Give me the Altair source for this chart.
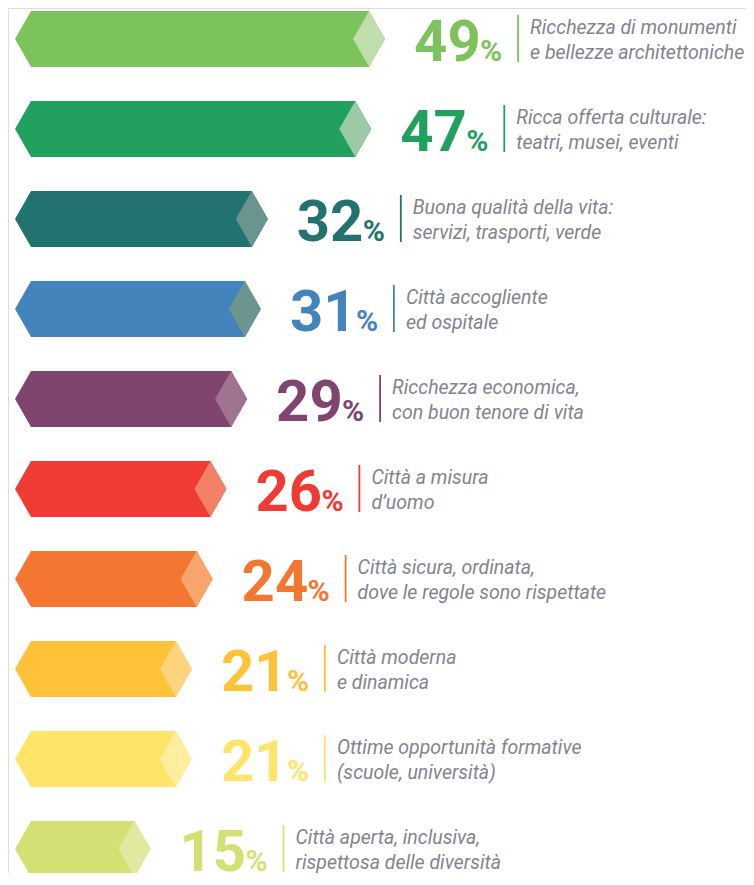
import altair as alt
import pandas as pd

# ---- data ----
CATEGORIES = ["monumenti", "cultura", "qualita", "accogliente", "ricchezza",
              "misura", "sicura", "moderna", "formative", "aperta"]
VALUES = [49, 47, 32, 31, 29, 26, 24, 21, 21, 15]
DESC_LINE1 = ["Ricchezza di monumenti", "Ricca offerta culturale:", "Buona qualità della vita:",
              "Città accogliente", "Ricchezza economica,", "Città a misura",
              "Città sicura, ordinata,", "Città moderna", "Ottime opportunità formative",
              "Città aperta, inclusiva,"]
DESC_LINE2 = ["e bellezze architettoniche", "teatri, musei, eventi", "servizi, trasporti, verde",
              "ed ospitale", "con buon tenore di vita", "d’uomo",
              "dove le regole sono rispettate", "e dinamica", "(scuole, università)",
              "rispettosa delle diversità"]
COLORS = ["#7bc35a", "#22a060", "#227370", "#4484bd", "#80456f",
          "#ef3b33", "#f47631", "#ffc239", "#ffe46a", "#d4e074"]
LIGHT_COLORS = ["#bfdeab", "#9cc9a6", "#6a948f", "#6d9590", "#a07390",
                "#f38168", "#f7a46d", "#ffd47e", "#ffee9f", "#e1e89f"]

# ---- layout constants (pixels) ----
W, H = 738, 865
PX = 6.9            # pixels per percentage point
ROW = 90            # pixels per row
X0 = 23             # pixel position of the bar body start inside the plot
Y0 = 31             # pixel position of first row centre
D = 16 / PX         # pointed-end length in data units
HH = 28 / ROW       # half bar height in row units
XMIN = -X0 / PX
XMAX = XMIN + W / PX
YMIN = -Y0 / ROW
YMAX = YMIN + H / ROW

hex_rows, dia_rows, lab_rows = [], [], []
for i, (c, v) in enumerate(zip(CATEGORIES, VALUES)):
    hex_rows += [
        {"cat": c, "u": -D, "y": i, "y2": i},
        {"cat": c, "u": 0, "y": i - HH, "y2": i + HH},
        {"cat": c, "u": v, "y": i - HH, "y2": i + HH},
        {"cat": c, "u": v + D, "y": i, "y2": i},
    ]
    dia_rows += [
        {"cat": c, "u": v - D, "y": i, "y2": i},
        {"cat": c, "u": v, "y": i - HH, "y2": i + HH},
        {"cat": c, "u": v + D, "y": i, "y2": i},
    ]
    lab_rows.append({"cat": c, "v": v, "num": str(v), "pct": "%", "row": i,
                     "line_x": v + (16 + 133) / PX,
                     "r1": i - 24 / ROW, "r2": i + 23 / ROW,
                     "d1": DESC_LINE1[i], "d2": DESC_LINE2[i]})

hexdf = pd.DataFrame(hex_rows)
diadf = pd.DataFrame(dia_rows)
labdf = pd.DataFrame(lab_rows)

xs = alt.Scale(domain=[XMIN, XMAX], nice=False, zero=False)
ys = alt.Scale(domain=[YMIN, YMAX], nice=False, zero=False, reverse=True)
cscale = alt.Scale(domain=CATEGORIES, range=COLORS)
lscale = alt.Scale(domain=CATEGORIES, range=LIGHT_COLORS)

NUM_FONT = "Roboto"
TXT_FONT = "Roboto"

hexes = alt.Chart(hexdf).mark_area(interpolate="linear", opacity=1).encode(
    x=alt.X("u:Q", scale=xs, axis=None),
    y=alt.Y("y:Q", scale=ys, axis=None),
    y2="y2:Q",
    color=alt.Color("cat:N", scale=cscale, legend=None),
    detail="cat:N",
)

diamonds = alt.Chart(diadf).mark_area(interpolate="linear", opacity=1).encode(
    x=alt.X("u:Q", scale=xs, axis=None),
    y=alt.Y("y:Q", scale=ys, axis=None),
    y2="y2:Q",
    fill=alt.Fill("cat:N", scale=lscale, legend=None),
    detail="cat:N",
)

base = alt.Chart(labdf)

nums = base.mark_text(align="left", baseline="alphabetic", dx=16 + 29, dy=22,
                      fontSize=58, fontWeight="bold", font=NUM_FONT).encode(
    x=alt.X("v:Q", scale=xs, axis=None),
    y=alt.Y("row:Q", scale=ys, axis=None),
    text="num:N",
    color=alt.Color("cat:N", scale=cscale, legend=None),
)

pcts = base.mark_text(align="left", baseline="alphabetic", dx=16 + 29 + 66, dy=22,
                      fontSize=30, fontWeight="bold", font=NUM_FONT).encode(
    x=alt.X("v:Q", scale=xs, axis=None),
    y=alt.Y("row:Q", scale=ys, axis=None),
    text="pct:N",
    color=alt.Color("cat:N", scale=cscale, legend=None),
)

rules = base.mark_rule(strokeWidth=1.8).encode(
    x=alt.X("line_x:Q", scale=xs, axis=None),
    y=alt.Y("r1:Q", scale=ys, axis=None),
    y2="r2:Q",
    color=alt.Color("cat:N", scale=cscale, legend=None),
)

desc1 = base.mark_text(align="left", baseline="alphabetic", dx=12, dy=-5,
                       fontSize=19.5, fontStyle="italic", font=TXT_FONT, color="#83838f").encode(
    x=alt.X("line_x:Q", scale=xs, axis=None),
    y=alt.Y("row:Q", scale=ys, axis=None),
    text="d1:N",
)
desc2 = base.mark_text(align="left", baseline="alphabetic", dx=12, dy=20,
                       fontSize=19.5, fontStyle="italic", font=TXT_FONT, color="#83838f").encode(
    x=alt.X("line_x:Q", scale=xs, axis=None),
    y=alt.Y("row:Q", scale=ys, axis=None),
    text="d2:N",
)

chart = alt.layer(hexes, diamonds, rules, nums, pcts, desc1, desc2).resolve_scale(
    color="independent", fill="independent"
).properties(
    width=W, height=H, autosize=alt.AutoSizeParams(type="none"), padding=0
).configure_view(strokeWidth=0, stroke="transparent").configure(background="white")

chart.save("out.html", embed_options={"renderer": "svg", "actions": False})
